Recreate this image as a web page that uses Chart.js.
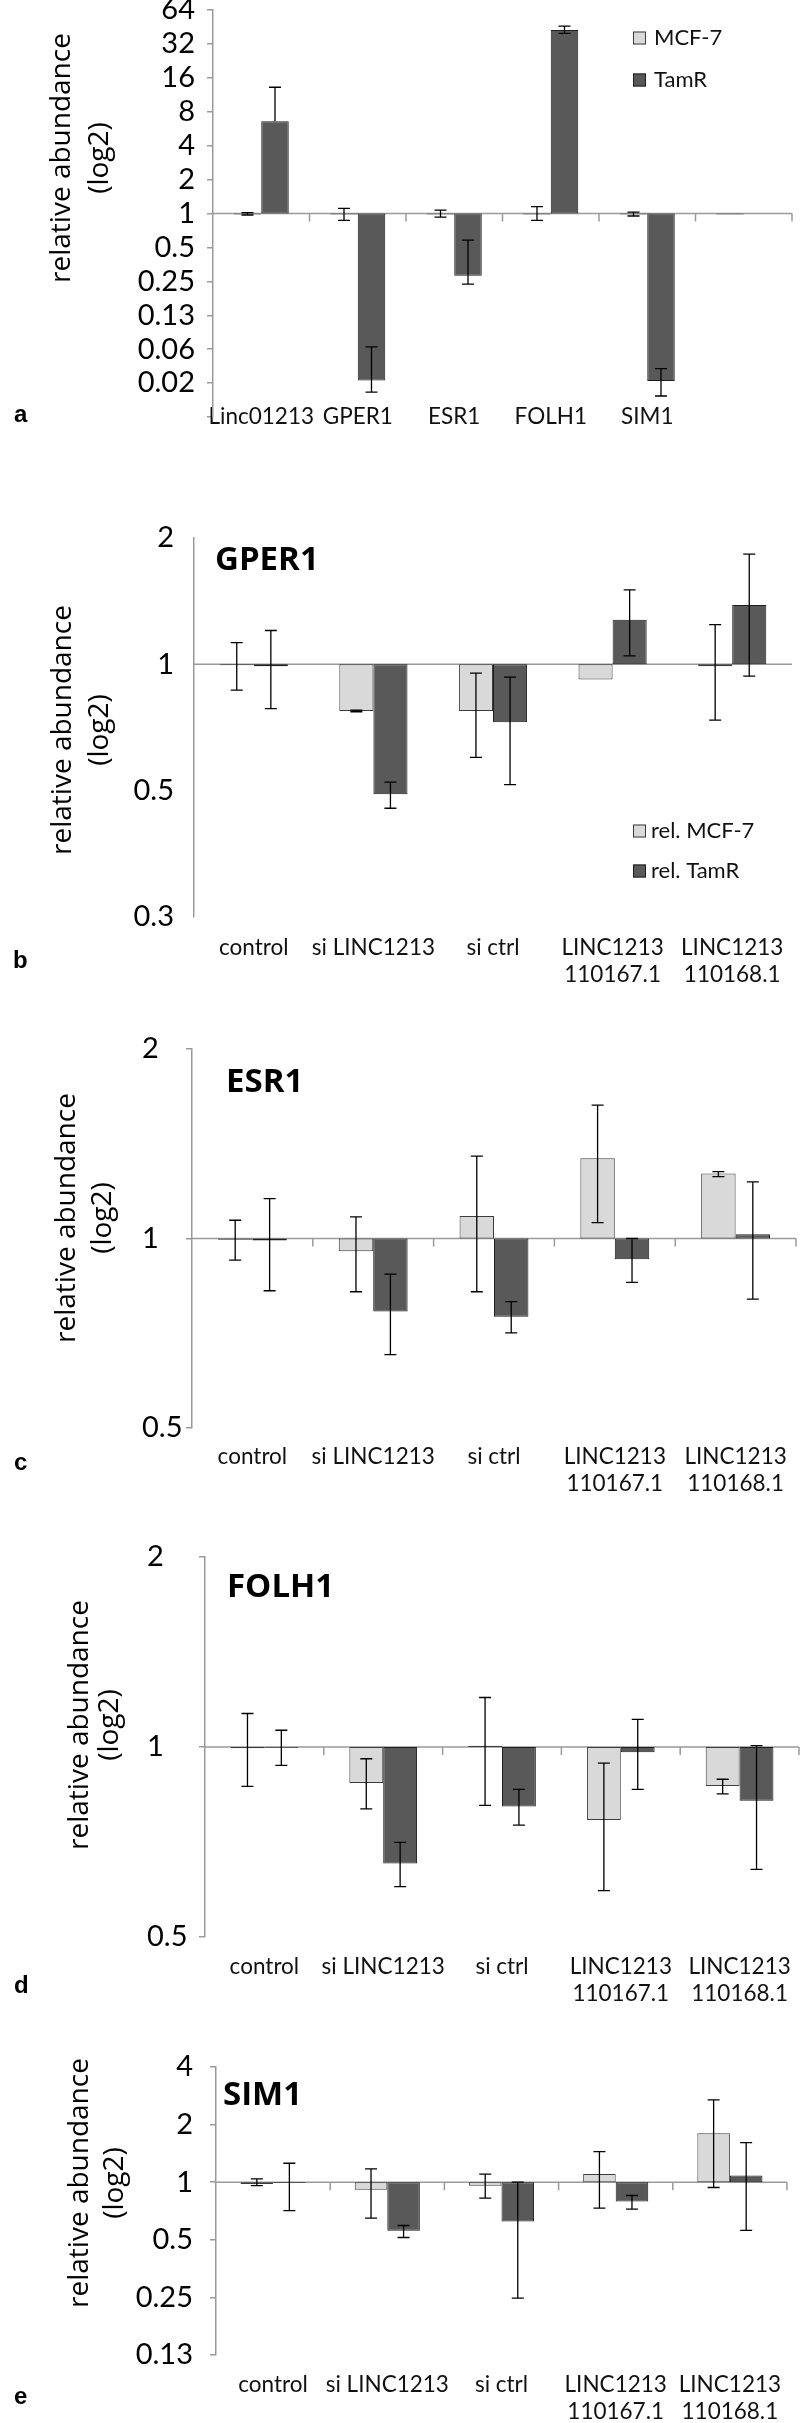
<!DOCTYPE html>
<html>
<head>
<meta charset="utf-8">
<title>relative abundance (log2)</title>
<script src="https://cdn.jsdelivr.net/npm/chart.js@4.4.1/dist/chart.umd.min.js"></script>
<style>
    html, body { margin: 0; padding: 0; background: #fff; }
    #page { position: relative; width: 800px; height: 2423px; overflow: hidden; }
    #page canvas { position: absolute; left: 0; }
</style>
</head>
<body>
<div id="page">
    <canvas id="chartA" width="800" height="460" style="top:-10px"></canvas>
    <canvas id="chartB" width="800" height="545" style="top:450px"></canvas>
    <canvas id="chartC" width="800" height="505" style="top:995px"></canvas>
    <canvas id="chartD" width="800" height="510" style="top:1500px"></canvas>
    <canvas id="chartE" width="800" height="413" style="top:2010px"></canvas>
</div>
<script>
// panel a: baseline expression
const genesA = ["Linc01213", "GPER1", "ESR1", "FOLH1", "SIM1", ""];
const mcfA = [0.98, 0.98, 0.98, 0.98, 0.98, 0.98];
const mcfHiA = [1.02, 1.11, 1.07, 1.15, 1.03, null];
const mcfLoA = [0.97, 0.87, 0.93, 0.87, 0.95, null];
const tamA = [6.6, 0.033, 0.28, 42.5, 0.0326, 1];
const tamHiA = [13.2, 0.0655, 0.58, 46, 0.042, null];
const tamLoA = [null, 0.026, 0.236, 39.7, 0.024, null];
const ticksA = [64, 32, 16, 8, 4, 2, 1, 0.5, 0.25, 0.125, 0.0625, 0.03125, 0.015625];
const tickLabelsA = ["64", "32", "16", "8", "4", "2", "1", "0.5", "0.25", "0.13", "0.06", "0.02", ""];

// panels b-e share the treatments
const treatments = ["control", "si LINC1213", "si ctrl", ["LINC1213", "110167.1"], ["LINC1213", "110168.1"]];

// b: GPER1
const mcfB = [0.995, 0.774, 0.774, 0.92, 0.99];
const mcfHiB = [1.126, 0.778, 0.953, null, 1.243];
const mcfLoB = [0.868, 0.771, 0.60, null, 0.736];
const tamB = [0.99, 0.49, 0.728, 1.278, 1.384];
const tamHiB = [1.204, 0.524, 0.932, 1.505, 1.83];
const tamLoB = [0.784, 0.454, 0.517, 1.047, 0.937];
const ticksB = [2, 1, 0.5, 0.25];
const tickLabelsB = ["2", "1", "0.5", "0.3"];

// c: ESR1
const mcfC = [0.995, 0.954, 1.086, 1.341, 1.268];
const mcfHiC = [1.069, 1.082, 1.352, 1.629, 1.277];
const mcfLoC = [0.924, 0.823, 0.823, 1.06, 1.254];
const tamC = [0.993, 0.766, 0.751, 0.927, 1.016];
const tamHiC = [1.157, 0.878, 0.794, 1.0, 1.23];
const tamLoC = [0.826, 0.654, 0.708, 0.852, 0.801];
const ticksC = [2, 1, 0.5];
const tickLabelsC = ["2", "1", "0.5"];

// d: FOLH1
const mcfD = [0.995, 0.877, 1.005, 0.766, 0.867];
const mcfHiD = [1.13, 0.958, 1.198, 0.943, 0.889];
const mcfLoD = [0.866, 0.798, 0.808, 0.592, 0.843];
const tamD = [0.997, 0.654, 0.805, 0.981, 0.822];
const tamHiD = [1.063, 0.706, 0.857, 1.106, 1.005];
const tamLoD = [0.935, 0.601, 0.752, 0.857, 0.64];
const ticksD = [2, 1, 0.5];
const tickLabelsD = ["2", "1", "0.5"];

// e: SIM1
const mcfE = [0.98, 0.912, 0.957, 1.105, 1.80];
const mcfHiE = [1.04, 1.174, 1.101, 1.446, 2.69];
const mcfLoE = [0.96, 0.649, 0.825, 0.732, 0.938];
const tamE = [0.99, 0.557, 0.623, 0.793, 1.083];
const tamHiE = [1.256, 0.594, 1.0, 0.852, 1.61];
const tamLoE = [0.711, 0.514, 0.248, 0.723, 0.56];
const ticksE = [4, 2, 1, 0.5, 0.25, 0.125];
const tickLabelsE = ["4", "2", "1", "0.5", "0.25", "0.13"];

const lightFill = "#d9d9d9";
const lightEdge = "#3c3c3c";
const darkFill = "#595959";
const darkEdge = "#1e1e1e";
const axisGray = "#9a9a9a";

function decor(p) {
    // everything Excel draws around the bars: line at 1, error bars, legend, titles
    return {
        id: "decor",
        beforeDatasetsDraw(chart) {
            const { ctx, chartArea } = chart;
            const x = chart.scales.x;
            const y1 = chart.scales.y.getPixelForValue(1);
            const n = chart.data.labels.length;
            ctx.save();
            ctx.strokeStyle = axisGray;
            ctx.lineWidth = 1.5;
            ctx.beginPath();
            ctx.moveTo(chartArea.left, y1);
            ctx.lineTo(chartArea.right, y1);
            if (p.boundaryTicks) {
                for (let i = 1; i <= n; i++) {
                    const bx = i < n
                        ? (x.getPixelForValue(i - 1) + x.getPixelForValue(i)) / 2
                        : chartArea.right;
                    ctx.moveTo(bx, y1);
                    ctx.lineTo(bx, y1 + 8);
                }
            }
            ctx.stroke();
            ctx.restore();
        },
        afterDatasetsDraw(chart) {
            const { ctx } = chart;
            const y = chart.scales.y;
            ctx.save();
            ctx.strokeStyle = "#000";
            ctx.lineWidth = 1.3;
            chart.data.datasets.forEach((ds, i) => {
                const meta = chart.getDatasetMeta(i);
                meta.data.forEach((bar, j) => {
                    const hi = ds.errHi[j];
                    const lo = ds.errLo[j];
                    if (hi == null && lo == null) return;
                    const end = y.getPixelForValue(ds.values[j]);
                    const top = hi != null ? y.getPixelForValue(hi) : end;
                    const bot = lo != null ? y.getPixelForValue(lo) : end;
                    ctx.beginPath();
                    ctx.moveTo(bar.x, top);
                    ctx.lineTo(bar.x, bot);
                    if (hi != null) {
                        ctx.moveTo(bar.x - 6, top);
                        ctx.lineTo(bar.x + 6, top);
                    }
                    if (lo != null) {
                        ctx.moveTo(bar.x - 6, bot);
                        ctx.lineTo(bar.x + 6, bot);
                    }
                    ctx.stroke();
                });
            });
            ctx.restore();
        },
        afterDraw(chart) {
            const { ctx } = chart;
            const t = p.canvasTop;
            ctx.save();
            ctx.fillStyle = "#000";

            // y axis title, rotated
            ctx.font = "28px 'Open Sans'";
            ctx.textAlign = "center";
            ctx.textBaseline = "alphabetic";
            ["relative abundance", "(log2)"].forEach((line, k) => {
                ctx.save();
                ctx.translate(p.axisTitle.xs[k], p.axisTitle.cy - t);
                ctx.rotate(-Math.PI / 2);
                ctx.fillText(line, 0, 0);
                ctx.restore();
            });

            if (p.title) {
                ctx.font = "bold 33px 'Open Sans'";
                ctx.textAlign = "left";
                ctx.fillText(p.title.text, p.title.x, p.title.y - t);
            }

            if (p.legend) {
                ctx.font = "22px Lato";
                ctx.textAlign = "left";
                ctx.textBaseline = "middle";
                chart.data.datasets.forEach((ds, k) => {
                    const cy = p.legend.ys[k] - t;
                    ctx.fillStyle = ds.backgroundColor;
                    ctx.fillRect(p.legend.x, cy - 6.5, 13, 13);
                    ctx.strokeStyle = ds.borderColor;
                    ctx.lineWidth = 1;
                    ctx.strokeRect(p.legend.x + 0.5, cy - 6, 12, 12);
                    ctx.fillStyle = "#111";
                    ctx.fillText(ds.label, p.legend.textX, cy);
                });
            }

            ctx.fillStyle = "#000";
            ctx.font = "bold 24px 'Liberation Sans'";
            ctx.textAlign = "left";
            ctx.textBaseline = "alphabetic";
            ctx.fillText(p.letter.text, p.letter.x, p.letter.y - t);
            ctx.restore();
        },
    };
}

function drawPanel(id, p) {
    const canvas = document.getElementById(id);
    const H = canvas.height;
    const t = p.canvasTop;

    new Chart(canvas.getContext("2d"), {
        type: "bar",
        data: {
            labels: p.labels,
            datasets: [
                {
                    label: p.names[0],
                    data: p.mcf.map((v) => [1, v]),
                    values: p.mcf,
                    errHi: p.mcfHi,
                    errLo: p.mcfLo,
                    backgroundColor: lightFill,
                    borderColor: lightEdge,
                    borderWidth: 1,
                    borderSkipped: false,
                    categoryPercentage: 0.57,
                    barPercentage: 1,
                },
                {
                    label: p.names[1],
                    data: p.tam.map((v) => [1, v]),
                    values: p.tam,
                    errHi: p.tamHi,
                    errLo: p.tamLo,
                    backgroundColor: darkFill,
                    borderColor: darkEdge,
                    borderWidth: 1,
                    borderSkipped: false,
                    categoryPercentage: 0.57,
                    barPercentage: 1,
                },
            ],
        },
        options: {
            responsive: false,
            animation: false,
            events: [],
            layout: {
                padding: {
                    left: p.labelLeft,
                    top: p.axisTop - t,
                    right: 800 - p.axisRight,
                    bottom: 0,
                },
            },
            plugins: {
                legend: { display: false },
                tooltip: { enabled: false },
            },
            scales: {
                x: {
                    offset: true,
                    grid: { display: false, drawTicks: false },
                    border: { display: false },
                    ticks: {
                        color: "#111",
                        font: { family: "Lato", size: 22.5, lineHeight: 1.2 },
                        padding: p.xPad,
                        mirror: p.xMirror,
                        maxRotation: 0,
                        autoSkip: false,
                    },
                    afterFit: (s) => {
                        s.height = H - (p.axisBottom - t);
                        s.paddingLeft = 0;
                        s.paddingRight = 0;
                    },
                },
                y: {
                    type: "logarithmic",
                    min: p.yMin,
                    max: p.yMax,
                    grid: {
                        drawOnChartArea: false,
                        drawTicks: true,
                        tickLength: 6,
                        color: p.tickMarks ? axisGray : "rgba(0,0,0,0)",
                        lineWidth: 1.5,
                    },
                    border: { color: axisGray, width: 1.5 },
                    ticks: {
                        color: "#000",
                        font: { family: "Lato", size: 29 },
                        padding: p.yPad,
                        crossAlign: p.crossAlign,
                        autoSkip: false,
                        callback: (v) => p.tickLabels[p.ticks.indexOf(v)],
                    },
                    afterBuildTicks: (s) => {
                        s.ticks = p.ticks.map((v) => ({ value: v }));
                    },
                    afterFit: (s) => {
                        s.width = p.axisX - p.labelLeft;
                        s.paddingTop = 0;
                        s.paddingBottom = 0;
                    },
                },
            },
        },
        plugins: [decor(p)],
    });
}

document.addEventListener("DOMContentLoaded", function () {
    drawPanel("chartA", {
        canvasTop: -10, labels: genesA, names: ["MCF-7", "TamR"],
        mcf: mcfA, mcfHi: mcfHiA, mcfLo: mcfLoA, tam: tamA, tamHi: tamHiA, tamLo: tamLoA,
        ticks: ticksA, tickLabels: tickLabelsA, yMin: 0.015625, yMax: 64,
        labelLeft: 0, crossAlign: "near", yPad: 12, tickMarks: true,
        axisX: 213, axisTop: 10, axisBottom: 417, axisRight: 792,
        xMirror: true, xPad: -13.5,
        boundaryTicks: true,
        legend: { x: 633, ys: [38, 80], textX: 654 },
        letter: { text: "a", x: 14, y: 422 },
        axisTitle: { xs: [70, 108], cy: 158 },
    });

    drawPanel("chartB", {
        canvasTop: 450, labels: treatments, names: ["rel. MCF-7", "rel. TamR"],
        mcf: mcfB, mcfHi: mcfHiB, mcfLo: mcfLoB, tam: tamB, tamHi: tamHiB, tamLo: tamLoB,
        ticks: ticksB, tickLabels: tickLabelsB, yMin: 0.25, yMax: 2,
        labelLeft: 0, crossAlign: "near", yPad: 14, tickMarks: false,
        axisX: 194, axisTop: 538, axisBottom: 917, axisRight: 792,
        xMirror: false, xPad: 17.5,
        boundaryTicks: false,
        title: { text: "GPER1", x: 215, y: 570 },
        legend: { x: 633, ys: [831, 871], textX: 651 },
        letter: { text: "b", x: 13, y: 968 },
        axisTitle: { xs: [71, 108], cy: 730 },
    });

    drawPanel("chartC", {
        canvasTop: 995, labels: treatments, names: ["rel. MCF-7", "rel. TamR"],
        mcf: mcfC, mcfHi: mcfHiC, mcfLo: mcfLoC, tam: tamC, tamHi: tamHiC, tamLo: tamLoC,
        ticks: ticksC, tickLabels: tickLabelsC, yMin: 0.5, yMax: 2,
        labelLeft: 142, crossAlign: "far", yPad: 10, tickMarks: true,
        axisX: 192, axisTop: 1049, axisBottom: 1428, axisRight: 796,
        xMirror: false, xPad: 15.5,
        boundaryTicks: true,
        title: { text: "ESR1", x: 226, y: 1092 },
        letter: { text: "c", x: 14, y: 1470 },
        axisTitle: { xs: [75, 111], cy: 1218 },
    });

    drawPanel("chartD", {
        canvasTop: 1500, labels: treatments, names: ["rel. MCF-7", "rel. TamR"],
        mcf: mcfD, mcfHi: mcfHiD, mcfLo: mcfLoD, tam: tamD, tamHi: tamHiD, tamLo: tamLoD,
        ticks: ticksD, tickLabels: tickLabelsD, yMin: 0.5, yMax: 2,
        labelLeft: 147, crossAlign: "far", yPad: 10, tickMarks: true,
        axisX: 205, axisTop: 1557, axisBottom: 1937, axisRight: 799,
        xMirror: false, xPad: 16.5,
        boundaryTicks: true,
        title: { text: "FOLH1", x: 227, y: 1597 },
        letter: { text: "d", x: 14, y: 1993 },
        axisTitle: { xs: [88, 118], cy: 1725 },
    });

    drawPanel("chartE", {
        canvasTop: 2010, labels: treatments, names: ["rel. MCF-7", "rel. TamR"],
        mcf: mcfE, mcfHi: mcfHiE, mcfLo: mcfLoE, tam: tamE, tamHi: tamHiE, tamLo: tamLoE,
        ticks: ticksE, tickLabels: tickLabelsE, yMin: 0.125, yMax: 4,
        labelLeft: 0, crossAlign: "near", yPad: 17, tickMarks: true,
        axisX: 216, axisTop: 2067, axisBottom: 2355, axisRight: 787,
        xMirror: false, xPad: 16.5,
        boundaryTicks: true,
        title: { text: "SIM1", x: 223, y: 2105 },
        letter: { text: "e", x: 14, y: 2404 },
        axisTitle: { xs: [88, 123], cy: 2183 },
    });
});
</script>
</body>
</html>
